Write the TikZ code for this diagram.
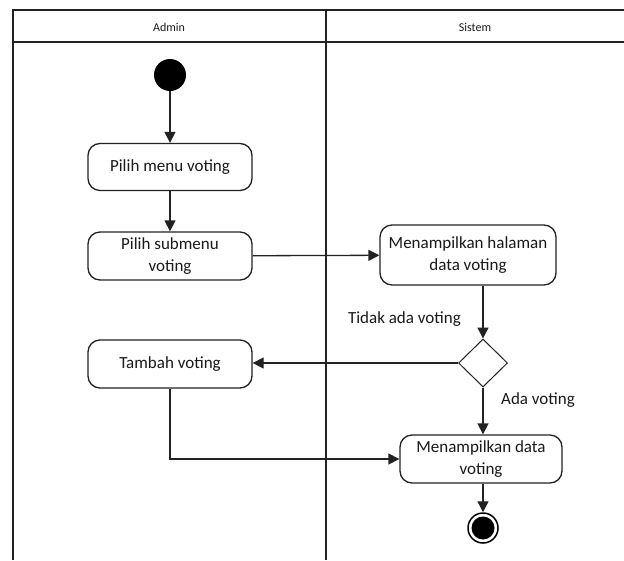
\documentclass[tikz,border=0pt]{standalone}
\usepackage{fontspec}
\setmainfont{Carlito}
\usetikzlibrary{arrows.meta,shapes.geometric}
\definecolor{linec}{HTML}{222222}
\tikzset{
  act/.style={draw=linec, line width=1.3pt, rounded corners=12pt, fill=white,
    minimum width=164pt, align=center, inner sep=2pt,
    font=\fontsize{17}{21.5}\selectfont, text=black!90},
  lbl/.style={font=\fontsize{17}{21.5}\selectfont, text=black!90, inner sep=1pt},
  hdr/.style={font=\fontsize{12}{14}\selectfont, text=black!90},
  flow/.style={draw=linec, line width=1.3pt, -{Triangle[length=11pt,width=11pt]}},
  frame/.style={draw=linec, line width=2pt}
}
\begin{document}
\begin{tikzpicture}[x=1pt,y=-1pt]
\useasboundingbox (0,0) rectangle (624,560);
% swimlanes
\draw[frame] (13,560) -- (13,10) -- (626,10);
\draw[frame] (13,42) -- (626,42);
\draw[frame] (326,10) -- (326,560);
\node[hdr] (hadmin) at (169,27) {Admin};
\node[hdr] (hsistem) at (475,27) {Sistem};
% nodes
\node[circle, fill=black, minimum size=32pt, inner sep=0] (start) at (170,75) {};
\node[act, minimum height=47pt] (b1) at (170,167) {Pilih menu voting};
\node[act, minimum height=48pt] (b2) at (170,256) {Pilih submenu\\voting};
\node[act, minimum width=176pt, minimum height=60pt] (b3) at (468,255) {Menampilkan halaman\\data voting};
\node[diamond, draw=linec, line width=1pt, fill=white, minimum width=49pt, minimum height=48pt, inner sep=0] (dia) at (483,363) {};
\node[act, minimum height=48pt] (b4) at (170,364) {Tambah voting};
\node[act, minimum width=162pt, minimum height=48pt] (b5) at (481,459) {Menampilkan data\\voting};
\node[circle, draw=black, line width=1.5pt, minimum size=30pt, inner sep=0] (end) at (483,528) {};
\node[circle, fill=black, minimum size=23pt, inner sep=0] (endin) at (end) {};
% labels
\node[lbl, anchor=east] (ltidak) at (462,319) {Tidak ada voting};
\node[lbl, anchor=west] (lada) at (500,400) {Ada voting};
% connectors
\draw[flow] (start) -- (b1);
\draw[flow] (b1) -- (b2);
\draw[flow] (b2) -- (b3);
\draw[flow] (b3.south -| dia.north) -- (dia.north);
\draw[flow] (dia.west) -- (b4.east |- dia.west);
\draw[flow] (dia.south) -- (b5.north -| dia.south);
\draw[flow] (b4.south) |- (b5.west);
\draw[flow] (b5.south -| end.north) -- (end.north);
\end{tikzpicture}
\end{document}
